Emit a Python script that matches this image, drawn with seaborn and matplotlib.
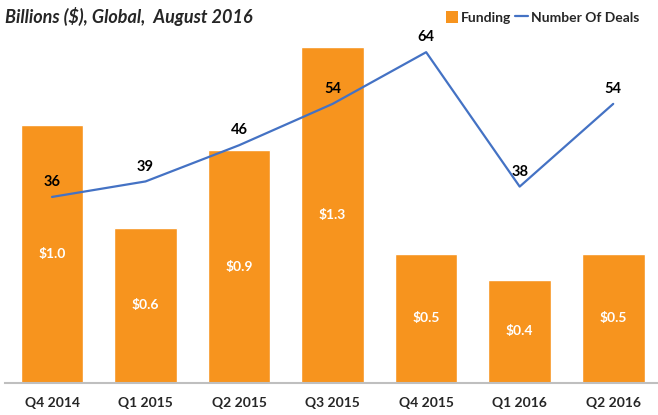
import pandas as pd
import matplotlib.pyplot as plt
import seaborn as sns
from matplotlib.patches import Patch
from matplotlib.lines import Line2D

# Data
quarters = ["Q4 2014", "Q1 2015", "Q2 2015", "Q3 2015", "Q4 2015", "Q1 2016", "Q2 2016"]
funding = [1.0, 0.6, 0.9, 1.3, 0.5, 0.4, 0.5]
deals = [36, 39, 46, 54, 64, 38, 54]

df = pd.DataFrame({"Quarter": quarters, "Funding": funding, "Deals": deals})

sns.set_style("white")
plt.rcParams["font.family"] = ["Lato", "DejaVu Sans"]

orange = "#F7941E"
blue = "#4472C4"

fig = plt.figure(figsize=(6.58, 4.15), dpi=100)
ax = fig.add_axes([0.008, 0.077, 0.995, 0.872])

sns.barplot(data=df, x="Quarter", y="Funding", color=orange, width=0.67,
            saturation=1, ax=ax)
ax.set_ylim(0, 1.4)
ax.set_xlim(-0.5, 6.5)
ax.set_xlabel("")
ax.set_ylabel("")
ax.set_yticks([])
for s in ["top", "right", "left"]:
    ax.spines[s].set_visible(False)
ax.spines["bottom"].set_color("#BFBFBF")
ax.spines["bottom"].set_linewidth(1.5)
ax.tick_params(axis="x", length=0, pad=10)
for lbl in ax.get_xticklabels():
    lbl.set_fontweight("bold")
    lbl.set_fontsize(10)

# bar value labels
for i, v in enumerate(funding):
    ax.text(i, v / 2, f"${v:.1f}", color="white", ha="center", va="center",
            fontsize=10, fontweight="bold")

ax2 = ax.twinx()
sns.lineplot(x=range(len(deals)), y=deals, color=blue, linewidth=1.6, ax=ax2)
ax2.set_ylim(0, 70)
ax2.set_yticks([])
for s in ["top", "right", "left", "bottom"]:
    ax2.spines[s].set_visible(False)
for i, d in enumerate(deals):
    ax2.text(i, d + 1.5, str(d), ha="center", va="bottom", fontsize=10.5,
             fontweight="bold", color="black")

fig.text(0.008, 0.96, "Billions ($), Global,  August 2016", fontsize=13,
         fontweight="bold", fontstyle="italic", ha="left", va="center")

handles = [Patch(facecolor=orange, edgecolor="none"),
           Line2D([0], [0], color=blue, linewidth=1.6)]
fig.legend(handles, ["Funding", "Number Of Deals"], loc="center right",
           bbox_to_anchor=(0.99, 0.958), ncol=2, frameon=False,
           prop={"weight": "bold", "size": 10}, handlelength=0.9,
           handleheight=0.9, handletextpad=0.2, columnspacing=0.3)

fig.savefig("out.png", dpi=100)
